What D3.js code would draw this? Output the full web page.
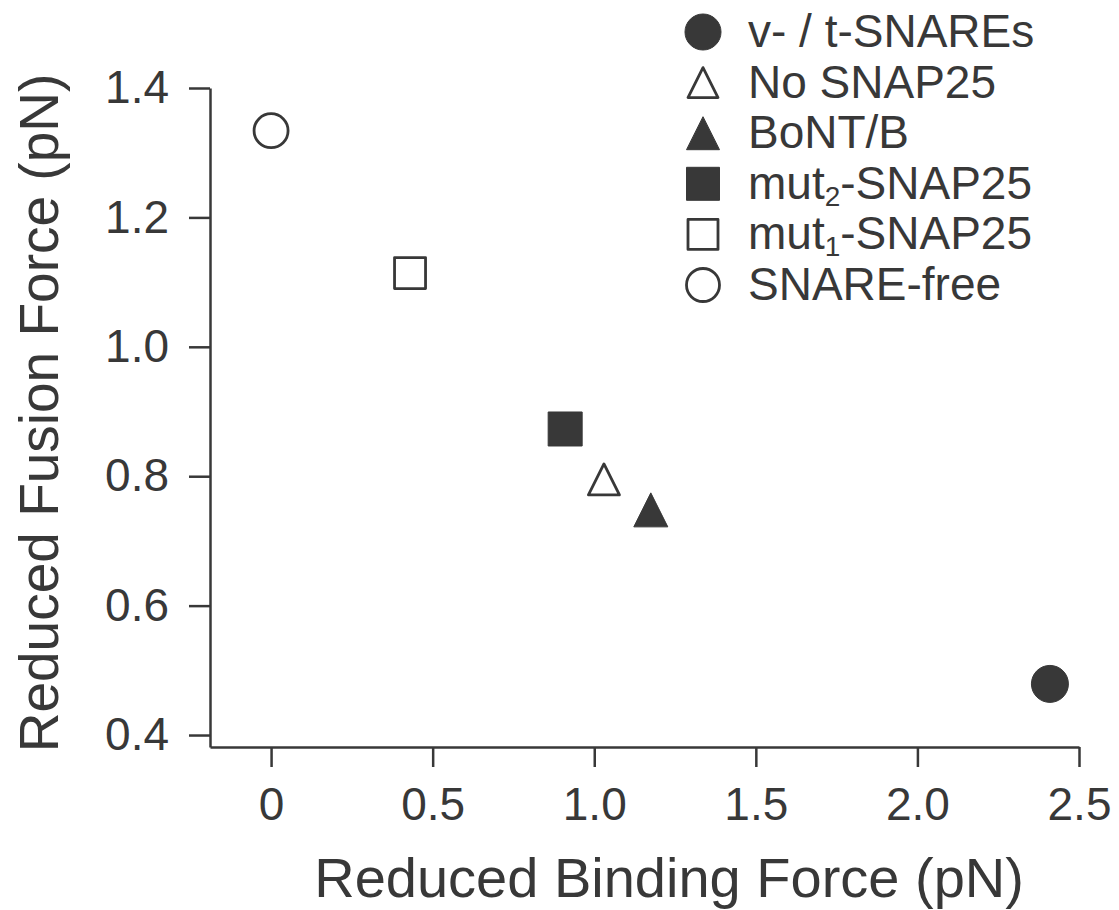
<!DOCTYPE html>
<html>
<head>
<meta charset="utf-8">
<script src="https://cdn.jsdelivr.net/npm/d3@7"></script>
<style>
  body { margin: 0; background: #fff; }
  text { font-family: "Liberation Sans", Arial, Helvetica, sans-serif; fill: #383838; }
</style>
</head>
<body>
<div id="chart"></div>
<script>
// 1: DATA
const conditions = ["v- / t-SNAREs", "No SNAP25", "BoNT/B", "mut_2-SNAP25", "mut_1-SNAP25", "SNARE-free"];
const bindingForce = [2.41, 1.03, 1.175, 0.91, 0.43, 0.0];
const fusionForce = [0.479, 0.795, 0.748, 0.873, 1.114, 1.334];
const xTicks = [0, 0.5, 1.0, 1.5, 2.0, 2.5];
const yTicks = [0.4, 0.6, 0.8, 1.0, 1.2, 1.4];

// marker style per condition
const markerShapes = ["circle", "triangle", "triangle", "square", "square", "circle"];
const markerFilled = [true, false, true, true, false, false];

const data = conditions.map((c, i) => ({
    label: c,
    x: bindingForce[i],
    y: fusionForce[i],
    shape: markerShapes[i],
    filled: markerFilled[i]
}));

// 2: SVG
const W = 1119, H = 910;
const margin = { top: 88, right: 40, bottom: 163, left: 210 };
const width = W - margin.left - margin.right;   // 869
const height = H - margin.top - margin.bottom;  // 659
const ink = "#383838";

const svg = d3.select("#chart").append("svg")
    .attr("width", W)
    .attr("height", H);

const g = svg.append("g")
    .attr("transform", `translate(${margin.left},${margin.top})`);

// 3: SCALES
const xScale = d3.scaleLinear().domain([-0.189, 2.5]).range([0, width]);
const yScale = d3.scaleLinear().domain([0.3815, 1.4]).range([height, 0]);

// 4: AXES
const xAxis = g.append("g")
    .attr("transform", `translate(0,${height})`)
    .call(d3.axisBottom(xScale)
        .tickValues(xTicks)
        .tickSize(20)
        .tickSizeOuter(0)
        .tickPadding(20)
        .tickFormat(d => d === 0 ? "0" : d3.format(".1f")(d)));

const yAxis = g.append("g")
    .call(d3.axisLeft(yScale)
        .tickValues(yTicks)
        .tickSize(21)
        .tickSizeOuter(0)
        .tickPadding(20)
        .tickFormat(d3.format(".1f")));

[xAxis, yAxis].forEach(ax => {
    ax.select(".domain").attr("stroke", ink).attr("stroke-width", 2.5);
    ax.selectAll(".tick line").attr("stroke", ink).attr("stroke-width", 2.5);
    ax.selectAll(".tick text")
        .attr("fill", ink)
        .style("font-size", "46px")
        .style("font-family", "'Liberation Sans', Arial, sans-serif");
});

// 5: MARKERS
function shapePath(shape, s) {
    const h = s / 2;
    if (shape === "square") return `M${-h},${-h}H${h}V${h}H${-h}Z`;
    if (shape === "triangle") return `M0,${-h}L${h},${h}L${-h},${h}Z`;
    return d3.symbol(d3.symbolCircle, Math.PI * h * h)();
}

function drawMarker(sel, d, size) {
    sel.append("path")
        .attr("d", shapePath(d.shape, d.filled ? size : size - 3))
        .attr("fill", d.filled ? ink : "#fff")
        .attr("stroke", ink)
        .attr("stroke-width", d.filled ? 1 : 2.8)
        .attr("stroke-linejoin", "round");
}

g.selectAll(".pt")
    .data(data)
    .join("g")
    .attr("class", "pt")
    .attr("transform", d => `translate(${xScale(d.x)},${yScale(d.y)})`)
    .each(function (d) { drawMarker(d3.select(this), d, d.shape === "circle" ? 37 : 34); });

// 6: LABELS
svg.append("text")
    .attr("x", margin.left + xScale(1.25) - 6)
    .attr("y", 897)
    .attr("text-anchor", "middle")
    .style("font-size", "56px")
    .text("Reduced Binding Force (pN)");

svg.append("text")
    .attr("transform", `translate(58,${413}) rotate(-90)`)
    .attr("text-anchor", "middle")
    .style("font-size", "55px")
    .text("Reduced Fusion Force (pN)");

// 7: LEGEND
const legend = svg.append("g").attr("transform", "translate(703,32)");

data.forEach((d, i) => {
    const row = legend.append("g").attr("transform", `translate(0,${i * 50.6})`);
    drawMarker(row, d, d.shape === "circle" ? 36 : 33);

    const txt = row.append("text")
        .attr("x", 45)
        .attr("y", 15)
        .style("font-size", "46px");
    // "mut_2-..." -> subscript
    const parts = d.label.split(/_(\d)/);
    parts.forEach((p, k) => {
        if (k % 2 === 1) {
            txt.append("tspan").attr("dy", 7).style("font-size", "28px").text(p);
        } else if (k > 0) {
            txt.append("tspan").attr("dy", -7).text(p);
        } else {
            txt.append("tspan").text(p);
        }
    });
});
</script>
</body>
</html>
